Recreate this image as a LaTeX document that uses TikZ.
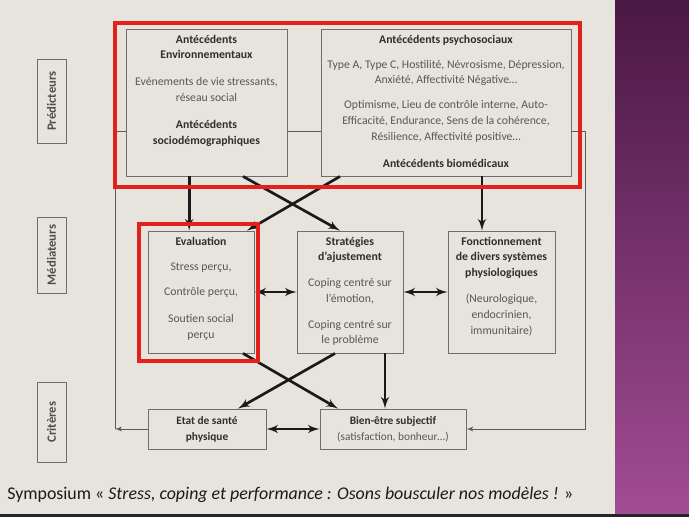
\documentclass[tikz,border=0pt]{standalone}
\usepackage{fontspec}
\setmainfont{Carlito}
\usetikzlibrary{arrows,positioning}
\pgfdeclarelayer{back}
\pgfsetlayers{back,main}
\definecolor{slide}{HTML}{E6E4DC}
\definecolor{boxgray}{HTML}{6E6E6E}
\definecolor{titlegray}{HTML}{2E2E2E}
\definecolor{bodygray}{HTML}{575757}
\definecolor{thingray}{HTML}{5A5A5A}
\definecolor{arrowblack}{HTML}{1A1A1A}
\definecolor{framered}{HTML}{E3211C}
\definecolor{purpletop}{HTML}{4A1844}
\definecolor{purplebot}{HTML}{A24C94}
\definecolor{captext}{HTML}{1A1A1A}
\newcommand{\titre}[1]{{\color{titlegray}\bfseries #1}}

\begin{document}
\begin{tikzpicture}[x=0.75pt,y=-0.75pt,>=latex']
  \tikzset{BoxStyle/.style  = {draw=boxgray, line width=0.6pt, fill=slide, inner sep=0pt},
           TextStyle/.style = {align=center, inner sep=0pt, text=bodygray,
                               font=\fontsize{8.8}{11.8}\selectfont},
           LowStyle/.style  = {BoxStyle, align=center, text=bodygray,
                               minimum height=30pt, font=\fontsize{8.5}{12}\selectfont},
           SideStyle/.style = {draw=boxgray, line width=0.6pt, rotate=90, inner sep=0pt,
                               minimum height=21.75pt, text=titlegray!85,
                               font=\fontsize{9.5}{11}\selectfont\bfseries},
           ArrowStyle/.style = {->, line width=2pt, draw=arrowblack},
           BothStyle/.style  = {<->, line width=2pt, draw=arrowblack},
           ThinStyle/.style  = {line width=0.75pt, draw=thingray},
           FrameStyle/.style = {draw=framered, line width=3pt}}
  \useasboundingbox (0,0) rectangle (689,517);
  \begin{pgfonlayer}{back}
    \fill[slide] (0,0) rectangle (615,517);
    \shade[top color=purpletop, bottom color=purplebot] (615,0) rectangle (689,517);
    \fill[black!85] (0,514) rectangle (689,517);
  \end{pgfonlayer}
  % levels
  \node[SideStyle, minimum width=63pt] (pred) at (51.5,101) {Prédicteurs};
  \node[SideStyle, minimum width=57pt] (med)  at (51.5,255) {Médiateurs};
  \node[SideStyle, minimum width=60pt] (crit) at (51.5,422) {Critères};
  % antecedents
  \node[BoxStyle, minimum width=120.75pt, minimum height=110.25pt] (env) at (206.5,102.5) {};
  \node[TextStyle, below=4.5pt of env.north] (envtext)
    {\titre{Antécédents}\\ \titre{Environnementaux}\\[8.5pt]
     Evénements de vie stressants,\\ réseau social\\[8.5pt]
     \titre{Antécédents}\\ \titre{sociodémographiques}};
  \node[BoxStyle, minimum width=187.5pt, minimum height=110.25pt] (psy) at (446,102.5) {};
  \node[TextStyle, below=4.5pt of psy.north] (psytext)
    {\titre{Antécédents psychosociaux}\\[7pt]
     Type A, Type C, Hostilité, Névrosisme, Dépression,\\ Anxiété, Affectivité Négative…\\[7pt]
     Optimisme, Lieu de contrôle interne, Auto-\\ Efficacité, Endurance, Sens de la cohérence,\\
     Résilience, Affectivité positive…\\[8.5pt]
     \titre{Antécédents biomédicaux}};
  % mediateurs
  \node[BoxStyle, minimum width=79.5pt, minimum height=91.5pt] (eval) at (201,292) {};
  \node[TextStyle, below=4.5pt of eval.north] (evaltext)
    {\titre{Evaluation}\\[7.5pt] Stress perçu,\\[7pt] Contrôle perçu,\\[8pt]
     Soutien social\\ perçu};
  \node[BoxStyle, minimum width=79.5pt, minimum height=91.5pt] (strat) at (350,292) {};
  \node[TextStyle, below=4.5pt of strat.north] (strattext)
    {\titre{Stratégies}\\ \titre{d’ajustement}\\[7.5pt] Coping centré sur\\ l’émotion,\\[7.5pt]
     Coping centré sur\\ le problème};
  \node[BoxStyle, minimum width=80.25pt, minimum height=91.5pt] (fonct) at (501.5,292) {};
  \node[TextStyle, below=4.5pt of fonct.north] (fonctext)
    {\titre{Fonctionnement}\\ \titre{de divers systèmes}\\ \titre{physiologiques}\\[8pt]
     (Neurologique,\\ endocrinien,\\ immunitaire)};
  % criteres
  \node[LowStyle, minimum width=88.5pt] (etat) at (207,429) {\titre{Etat de santé}\\ \titre{physique}};
  \node[LowStyle, minimum width=109.5pt] (bien) at (393,429)
    {\titre{Bien-être subjectif}\\ (satisfaction, bonheur…)};
  % arrows
  \draw[ArrowStyle] ([xshift=-13pt]env.south) -- ([xshift=-13pt]env.south |- eval.north);
  \draw[ArrowStyle] ([xshift=27.4pt]env.south) -- ([xshift=-7.5pt]strat.north);
  \draw[ArrowStyle] ([xshift=-79.5pt]psy.south) -- ([xshift=34.5pt]eval.north);
  \draw[ArrowStyle] ([xshift=27pt]psy.south) -- ([xshift=27pt]psy.south |- fonct.north);
  \draw[BothStyle] (eval) -- (strat);
  \draw[BothStyle] (strat) -- (fonct);
  \draw[ArrowStyle] ([xshift=31.5pt]eval.south) -- ([xshift=-41.25pt]bien.north);
  \draw[ArrowStyle] ([xshift=-11.25pt]strat.south) -- ([xshift=23.25pt]etat.north);
  \draw[ArrowStyle] ([xshift=26.25pt]strat.south) -- ([xshift=26.25pt]strat.south |- bien.north);
  \draw[BothStyle] (etat) -- (bien);
  % side links
  \coordinate (lt) at (115,131);
  \coordinate (rt) at (585,131);
  \begin{pgfonlayer}{back}
    \draw[ThinStyle] (lt) -- (rt);
    \draw[ThinStyle] (lt) -- (lt |- etat.west);
    \draw[ThinStyle,->] (etat.west) -- (lt |- etat.west);
    \draw[ThinStyle,->] (rt) |- (bien.east);
  \end{pgfonlayer}
  % highlights
  \draw[FrameStyle] (115,23) rectangle (580,187);
  \draw[FrameStyle] (139,224) rectangle (258,361);
  \node[anchor=base west, inner sep=0pt, text=captext, font=\fontsize{13.4}{15}\selectfont] (caption)
    at (7,499) {Symposium « \textit{Stress, coping et performance : Osons bousculer nos modèles !} »};
\end{tikzpicture}
\end{document}
